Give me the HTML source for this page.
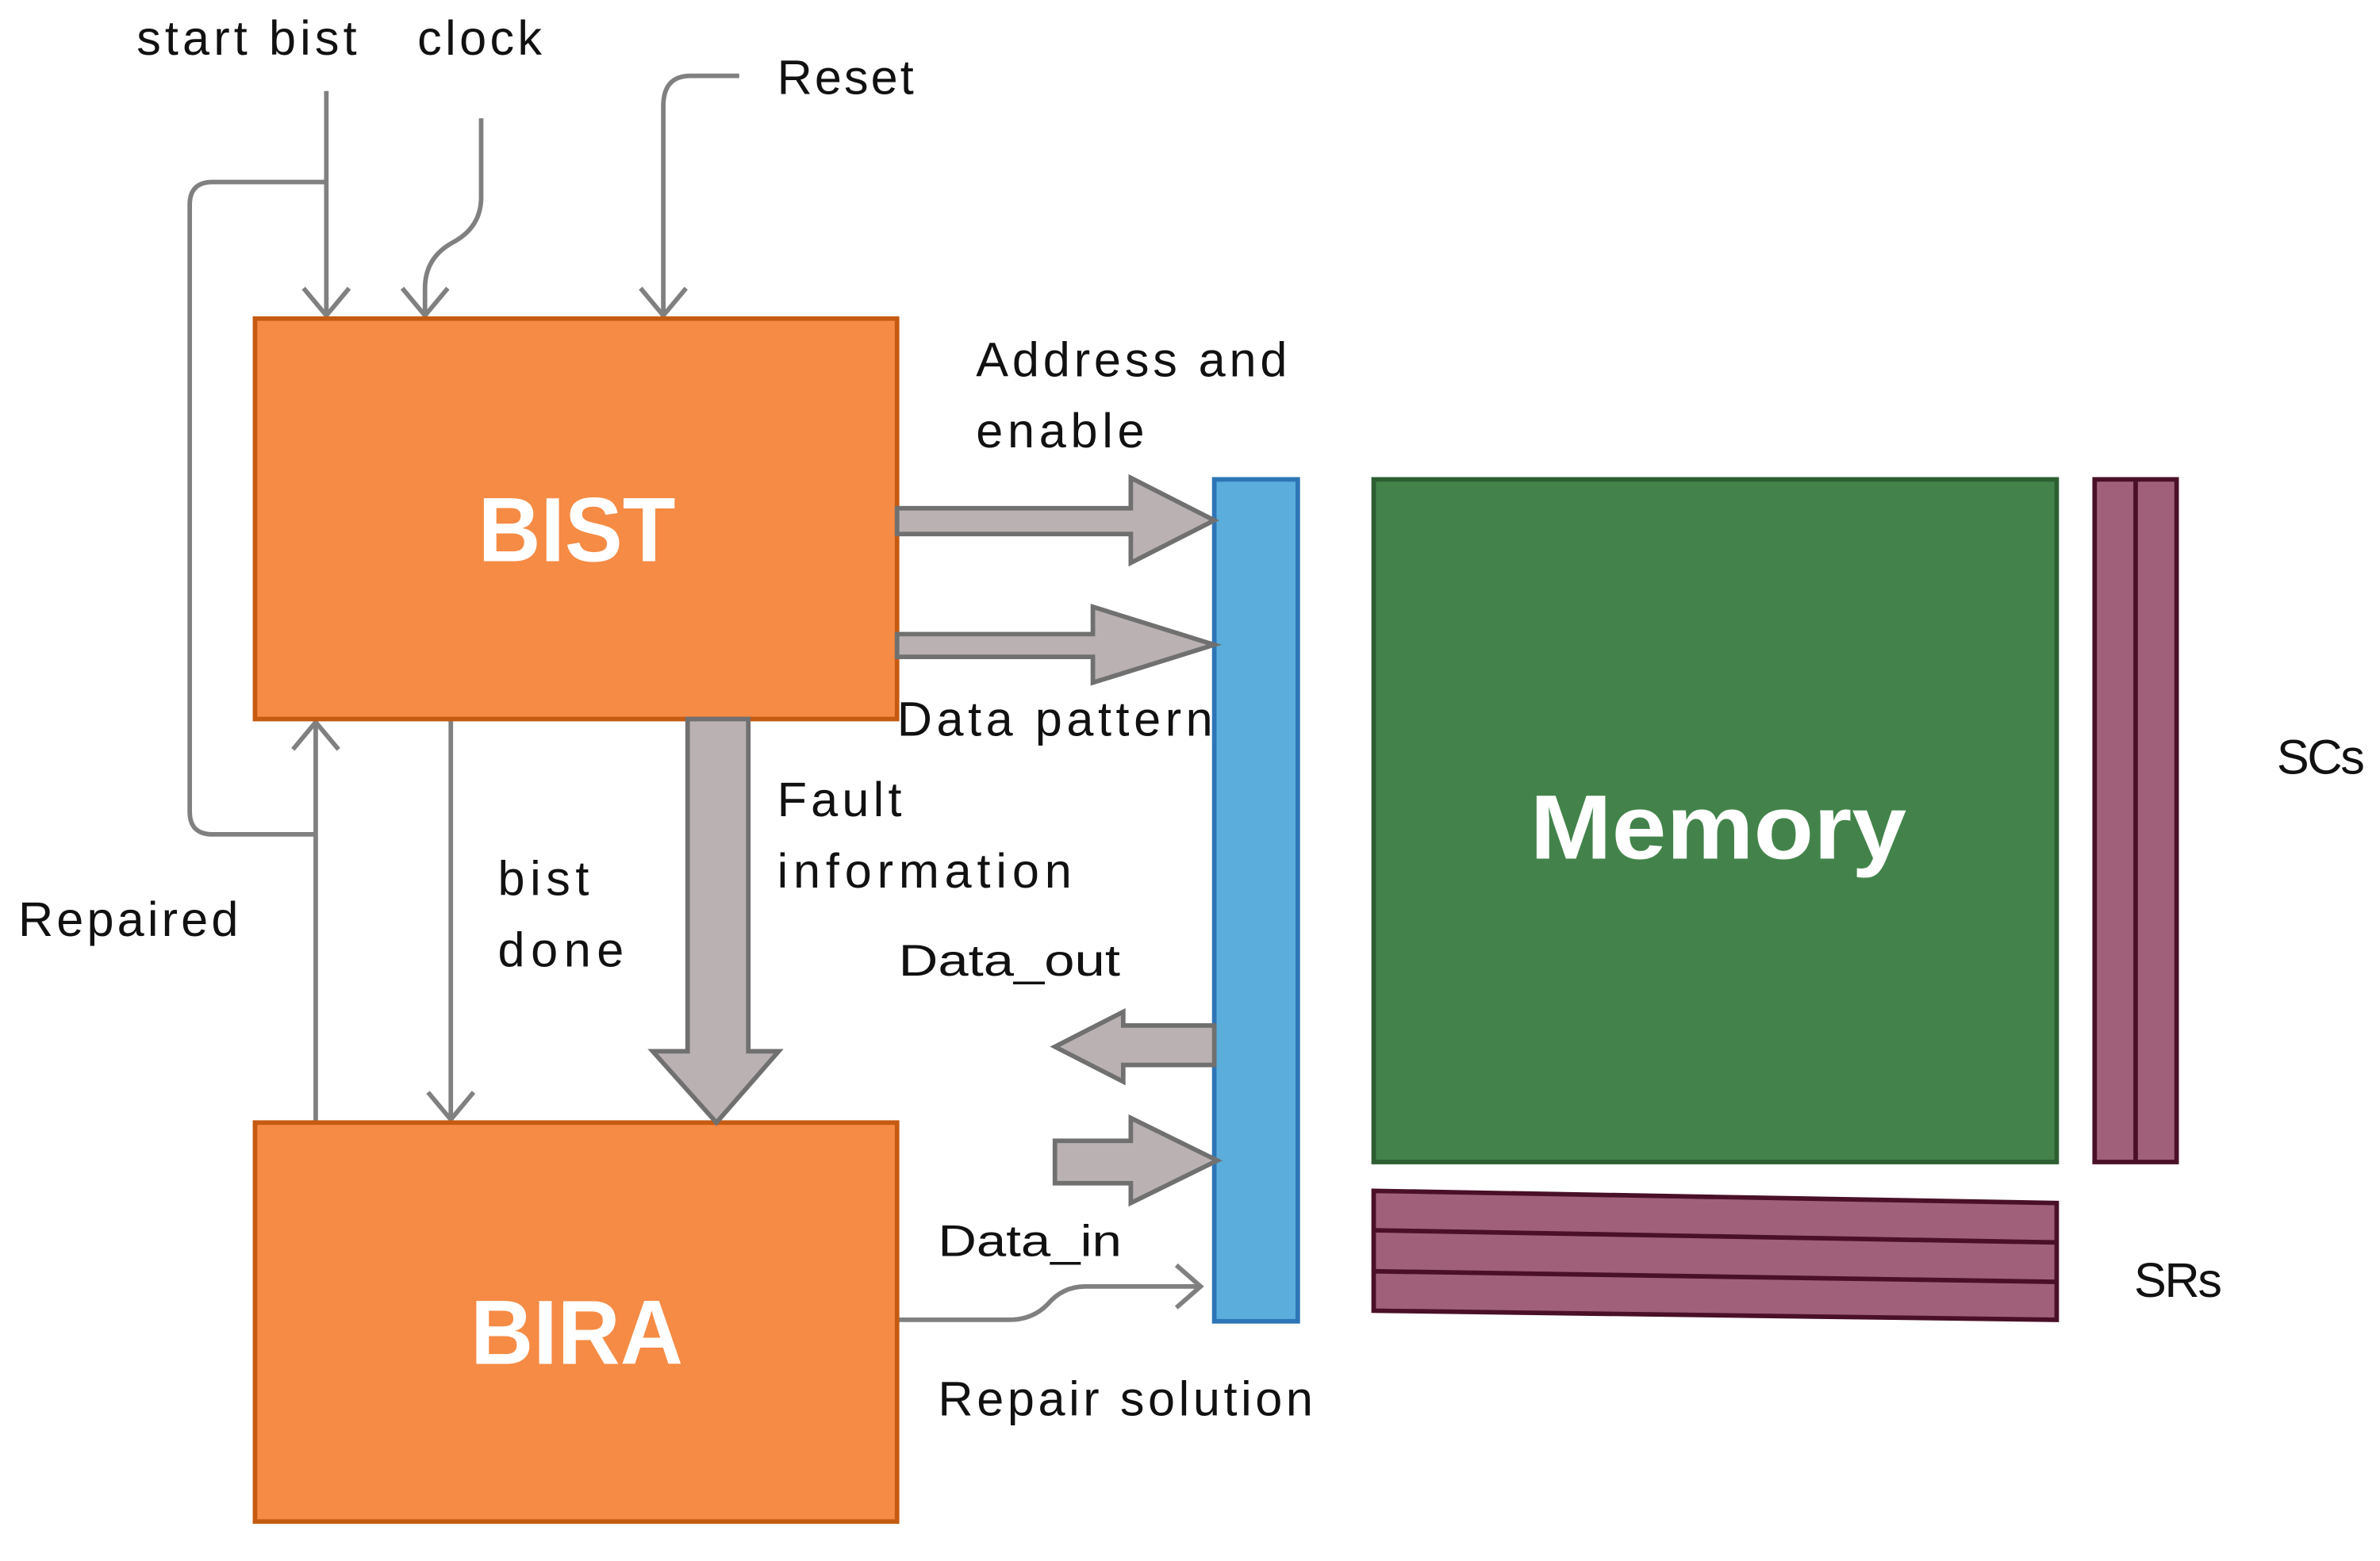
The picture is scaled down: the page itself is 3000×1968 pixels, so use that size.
<!DOCTYPE html>
<html><head><meta charset="utf-8"><style>
html,body{margin:0;padding:0;background:#fff;}
svg{display:block;}
text{font-family:"Liberation Sans",sans-serif;fill:#111;}
</style></head><body>
<svg width="3000" height="1968" viewBox="0 0 1568 1029" preserveAspectRatio="none" xmlns="http://www.w3.org/2000/svg">
<g fill="none" stroke="#808080" stroke-width="3">
<path d="M215 60 V208"/><path d="M200 190 L215 208 L230 190"/>
<path d="M215 120 H140 Q125 120 125 135 V535 Q125 550 140 550 H208"/>
<path d="M208 740 V478"/><path d="M193 494 L208 476 L223 494"/>
<path d="M317 78 V130 Q317 150 298 160 Q280 170 280 190 V208"/><path d="M265 190 L280 208 L295 190"/>
<path d="M487 50 H455 Q437 50 437 70 V208"/><path d="M422 190 L437 208 L452 190"/>
<path d="M297 474 V738"/><path d="M282 720 L297 738 L312 720"/>
<path d="M591 870 H665 Q680 870 690 860 Q700 848 715 848 H790"/><path d="M775 834 L791 848 L775 862"/>
</g>
<rect x="168" y="210" width="423" height="264" fill="#F58B45" stroke="#C55A11" stroke-width="3"/>
<text x="315" y="370" textLength="130" lengthAdjust="spacingAndGlyphs" font-size="60" font-weight="bold" style="fill:#fff">BIST</text>
<rect x="168" y="740" width="423" height="263" fill="#F58B45" stroke="#C55A11" stroke-width="3"/>
<text x="310" y="899" textLength="140" lengthAdjust="spacingAndGlyphs" font-size="60" font-weight="bold" style="fill:#fff">BIRA</text>
<rect x="800" y="316" width="55" height="555" fill="#5BAEDB" stroke="#2E75B6" stroke-width="3"/>
<rect x="905" y="316" width="450" height="450" fill="#43834B" stroke="#2D5E32" stroke-width="3"/>
<text x="1008" y="566" textLength="248" lengthAdjust="spacingAndGlyphs" font-size="60" font-weight="bold" style="fill:#fff">Memory</text>
<g fill="#A0607A" stroke="#4A1028" stroke-width="3">
<rect x="1380" y="316" width="54" height="450"/><path d="M1407 316 V766"/>
<path d="M905 785 L1355 793 V870 L905 864 Z"/>
<path d="M905 811 L1355 819 M905 838 L1355 845"/>
</g>
<g fill="#BAB2B2" stroke="#707070" stroke-width="3" stroke-linejoin="miter">
<path d="M591 335 H745 V315 L800 343 L745 371 V352 H591 Z"/>
<path d="M591 418 H720 V400 L800 425 L720 450 V433 H591 Z"/>
<path d="M453 474 H493 V693 H513 L472 740 L430 693 H453 Z"/>
<path d="M800 676 H740 V667 L695 690 L740 713 V702 H800 Z"/>
<path d="M695 752 H745 V737 L802 765 L745 793 V780 H695 Z"/>
</g>
<g font-size="32" lengthAdjust="spacingAndGlyphs">
<text x="90" y="36" textLength="145">start bist</text>
<text x="275" y="36" textLength="82">clock</text>
<text x="512" y="62" textLength="90">Reset</text>
<text x="643" y="248" textLength="205">Address and</text>
<text x="643" y="295" textLength="111">enable</text>
<text x="591" y="485" textLength="208">Data pattern</text>
<text x="512" y="538" textLength="82">Fault</text>
<text x="512" y="585" textLength="194">information</text>
<text x="328" y="590" textLength="60">bist</text>
<text x="328" y="637" textLength="83">done</text>
<text x="12" y="617" textLength="145">Repaired</text>
<text x="618" y="933" textLength="247">Repair solution</text>
<text x="1500" y="510" textLength="58">SCs</text>
<text x="1406" y="855" textLength="58">SRs</text>
</g>
<g font-size="29" style="fill:#222">
<text x="592" y="643" textLength="146" lengthAdjust="spacingAndGlyphs">Data_out</text>
<text x="618" y="828" textLength="121" lengthAdjust="spacingAndGlyphs">Data_in</text>
</g>
</svg>
</body></html>
